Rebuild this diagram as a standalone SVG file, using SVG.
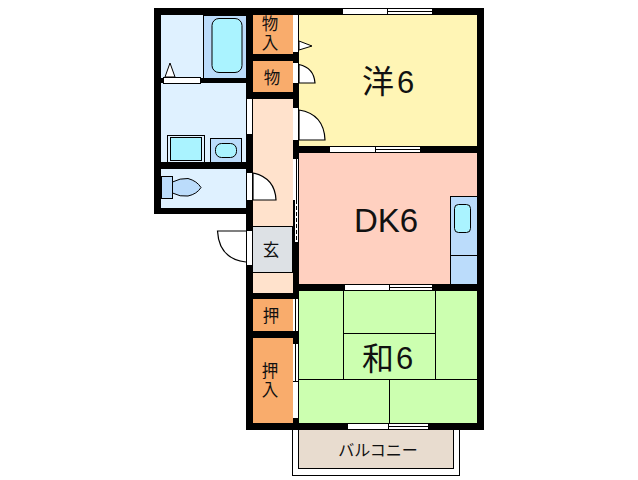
<svg xmlns="http://www.w3.org/2000/svg" width="638" height="480" viewBox="0 0 638 480">
<style>
.w{fill:#000;shape-rendering:crispEdges}
.g{fill:#fff;stroke:none;shape-rendering:crispEdges}
.l{fill:none;stroke:#000;stroke-width:1;shape-rendering:crispEdges}
.f{stroke:#000;stroke-width:1;shape-rendering:crispEdges}
.d{fill:#fff;stroke:#000;stroke-width:1.2}
.s{font:16.500px "Liberation Sans","Noto Sans CJK JP",sans-serif;fill:#111;text-anchor:middle}
.b{font:32px "Liberation Sans","Noto Sans CJK JP",sans-serif;fill:#111;text-anchor:middle}
.n{font-family:"Liberation Sans",sans-serif;font-size:33px;fill:#111}
</style>
<rect width="638" height="480" fill="#fff"/>
<g id="room-balcony">
<rect class="l" x="292.500" y="425.500" width="167" height="49.500"/>
<rect class="f" x="298.500" y="425.500" width="155" height="43" fill="#e8dccf"/>
<text class="s" x="378" y="456" style="font-size:16px">バルコニー</text>
</g>
<g id="room-western">
<rect x="299" y="15" width="178" height="131" fill="#fff5b5"/>
<text class="b" x="378" y="93">洋</text><text class="n" x="397" y="93" style="font-size:31px">6</text>
</g>
<g id="room-dk">
<rect x="299" y="153" width="178" height="131" fill="#ffd0c0"/>
<rect class="f" x="450.500" y="196.500" width="27" height="88" fill="#bbdcfb"/>
<line class="l" x1="450" y1="255.500" x2="477" y2="255.500"/>
<rect x="454.500" y="204.500" width="16" height="28" rx="4" fill="#aaf3ff" stroke="#000"/>
<text class="n" x="354" y="232">DK6</text>
</g>
<g id="room-japanese">
<rect x="299" y="291" width="178" height="132" fill="#ccffb0"/>
<path class="l" d="M343.500 291V379M435.500 291V379M344 333.500H435M299 379.500H477M389.500 379V423"/>
<text class="b" x="378" y="370">和</text><text class="n" x="396" y="369" style="font-size:31px">6</text>
</g>
<g id="hall">
<rect x="253" y="99" width="40" height="194" fill="#ffe2cc"/>
<rect class="f" x="252.500" y="226.500" width="40" height="46" fill="#dde1e5"/>
<text class="s" x="271" y="256">玄</text>
</g>
<g id="closet-top">
<rect x="253" y="15" width="40" height="39" fill="#f9ac6c"/>
<text class="s"><tspan x="270" y="30">物</tspan><tspan x="270" y="49">入</tspan></text>
</g>
<g id="closet-mid">
<rect x="253" y="61" width="40" height="31" fill="#f9ac6c"/>
<text class="s" x="272" y="84">物</text>
</g>
<g id="closet-low1">
<rect x="253" y="299" width="40" height="32" fill="#f9ac6c"/>
<text class="s" x="271" y="322">押</text>
</g>
<g id="closet-low2">
<rect x="253" y="338" width="40" height="85" fill="#f9ac6c"/>
<text class="s"><tspan x="270" y="377">押</tspan><tspan x="270" y="396">入</tspan></text>
</g>
<g id="bath">
<rect x="161" y="15" width="43" height="63" fill="#dff1ff"/>
<rect class="f" x="203.500" y="15" width="43" height="63" fill="#bbdcfb"/>
<rect x="212" y="18.500" width="30" height="54" rx="7" fill="#aaf3ff" stroke="#000"/>
<path d="M170 63L165 77H175Z" fill="#fff" stroke="#000"/>
</g>
<g id="washroom">
<rect x="161" y="83" width="85" height="80" fill="#dff1ff"/>
<rect class="f" x="167.500" y="135.500" width="37" height="27" fill="#dff1ff"/>
<rect class="f" x="170.500" y="137.500" width="31" height="23" fill="#aaf3ff"/>
<rect class="f" x="210.500" y="138.500" width="31" height="24" fill="#bbdcfb"/>
<rect x="215.500" y="143.500" width="21" height="14" rx="6" fill="#aaf3ff" stroke="#000"/>
</g>
<g id="toilet">
<rect x="161" y="169" width="85" height="39" fill="#dff1ff"/>
<rect class="f" x="161" y="176.500" width="11.500" height="22" fill="#bbdcfb"/>
<path d="M172.500 182Q180 178 188 178.500Q197 181 201 187.500Q197 194 188 196Q180 197 172.500 193Z" fill="#bbdcfb" stroke="#000"/>
</g>
<g id="walls">
<path class="w" d="M154 8H484V430H246V214H154ZM161 15V78H246V15ZM161 83V162H246V83ZM161 169V208H246V169ZM253 15V54H293V15ZM253 61V92H293V61ZM253 99V293H293V99ZM253 299V331H293V299ZM253 338V423H293V338ZM299 15V146H477V15ZM299 153V284H477V153ZM299 291V423H477V291Z" fill-rule="evenodd"/>
</g>
<g id="connectors">
<rect class="g" x="164" y="78" width="36" height="5"/><rect class="l" x="163.500" y="77.500" width="37" height="6"/>
<rect class="g" x="293" y="15" width="5" height="37"/>
<path d="M299 41L312 46L299 50Z" fill="#fff" stroke="#000"/>
<rect class="g" x="293" y="63" width="5" height="20"/>
<path class="d" d="M299 64.500Q314 68 315 83H299Z"/>
<rect class="g" x="293" y="108" width="5" height="32"/>
<path class="d" d="M299 110Q324 114 325 140H299Z"/>
<rect class="g" x="247" y="99" width="5" height="35"/>
<rect class="g" x="247" y="173" width="5" height="27"/>
<path class="d" d="M253 173Q275 178 276 200H253Z"/>
<rect class="g" x="247" y="231" width="5" height="34"/>
<path class="d" d="M246 231H217.500Q219 259 246 262"/>
<rect class="g" x="293" y="159" width="5" height="41"/>
<rect class="g" x="295" y="200" width="3" height="42"/>
<path d="M296.500 200V242" stroke="#000" stroke-dasharray="4 2" fill="none"/>
<line class="l" x1="296.500" y1="159" x2="296.500" y2="200"/>
<rect class="g" x="343" y="9" width="89" height="5"/><path class="l" d="M387 11.500H432M387 9V14"/>
<rect class="g" x="330" y="147" width="90" height="5"/><path class="l" d="M375 149.500H420M375 147V152"/>
<rect class="g" x="345" y="285" width="87" height="5"/><path class="l" d="M389 287.500H432M389 285V290"/>
<rect class="g" x="348" y="424" width="80" height="5"/><path class="l" d="M388 426.500H428M388 424V429"/>
<rect class="g" x="293" y="299" width="5" height="32"/><line class="l" x1="295.500" y1="299" x2="295.500" y2="331"/>
<rect class="g" x="293" y="344" width="5" height="74"/><path class="l" d="M295.500 344V382M293 381.500H298"/>
</g>
</svg>
